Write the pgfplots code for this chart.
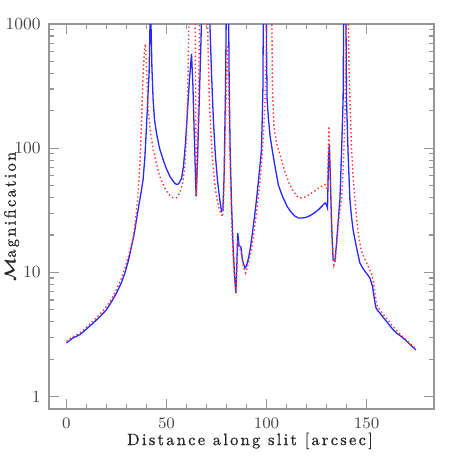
\documentclass[border=0pt]{standalone}
\usepackage{amsmath}
\usepackage{fontspec}
\usepackage{pgfplots}
\pgfplotsset{compat=1.18}
\newfontfamily\lbl{lmroman10-regular.otf}[LetterSpace=14,FakeBold=0.8]
\definecolor{txtgray}{RGB}{70,70,70}
\definecolor{axgray}{RGB}{150,150,150}
\definecolor{myblue}{RGB}{40,40,255}
\definecolor{myred}{RGB}{255,50,50}
\begin{document}
\begin{tikzpicture}
\useasboundingbox (-24.5pt,-24.5pt) rectangle (204.5pt,204.5pt);
\begin{axis}[
  at={(0,0)}, anchor=south west,
  scale only axis, width=192.5pt, height=192.5pt,
  xmin=-8.75, xmax=183.75,
  ymode=log, ymin=0.794, ymax=1000,
  xtick={0,50,100,150}, minor x tick num=4,
  ytick={1,10,100,1000}, yticklabels={1,10,100,1000},
  minor ytick={2,3,4,5,6,7,8,9,20,30,40,50,60,70,80,90,200,300,400,500,600,700,800,900},
  tick align=inside,
  major tick length=5pt, minor tick length=2.5pt,
  axis line style={axgray, line width=0.6pt},
  every tick/.style={axgray, line width=0.6pt},
  tick label style={txtgray, font=\fontsize{8.5}{10}\selectfont},
  xticklabel style={yshift=-1pt},
  yticklabel style={xshift=-0.7pt},
  xlabel={\lbl Distance along slit [arcsec]},
  ylabel={$\boldsymbol{\mathcal{M}}$\lbl agnification},
  every axis x label/.style={at={(axis description cs:0.522,-0.083)}, anchor=center, font=\fontsize{8.2}{10}\selectfont, text=black!85},
  every axis y label/.style={at={(axis description cs:-0.097,0.5)}, rotate=90, anchor=center, font=\fontsize{8.2}{10}\selectfont, text=black!85},
  clip=true,
]
\addplot[myblue, line width=0.65pt] coordinates {
(0,2.7) (3,2.95) (6.7,3.15) (10,3.5) (13.3,3.9) (16.7,4.4) (20,5.0) (22.5,5.8) (25,6.8) (27.5,8.3) (29.2,9.9)
(31,12.5) (32.5,16.2) (34,21) (35,26.6) (36.2,35) (37.5,46) (38.3,56) (39.2,85) (40,150) (40.7,260) (41.3,405) (41.7,900) (42,4000)
(42.3,900) (42.7,450) (43.3,247) (44,170) (45,132) (46.5,100) (48.3,81) (50,68) (52,58) (54,52.5) (55,51) (56,51.5) (57.5,57)
(58.5,72) (59.5,110) (60.5,200) (61.5,360) (62.5,575) (63.2,320) (64,110) (64.8,41) (65.5,80) (66.5,280) (67.3,800) (68,4000)
(71,4000) (71.7,1000) (72.5,400) (73.5,160) (74.5,85) (75.5,55) (76.5,40) (77.5,31) (78.2,32) (78.8,60) (79.5,300) (80.2,4000)
(80.8,4000) (81.3,400) (81.8,100) (82.5,36) (83.3,16) (84,9.5) (84.7,6.8) (85.2,12) (85.6,20.8) (86.3,16.4) (87.2,16)
(88,12.5) (89.2,10.8) (90,11.3) (91,13) (92,16) (93,21) (94,28) (95,38.6) (96,55) (97,80) (97.5,98) (98.2,300) (98.6,4000)
(99.6,4000) (100,700) (100.3,247) (101,170) (101.8,125) (102.8,98) (104,75) (106,50) (108,41) (110.3,34) (112,31)
(114,28.5) (116,27.4) (118,27.4) (120,27.8) (122,28.8) (124,30.2) (126,32) (128,34.5) (129.3,36.3) (130,35) (130.5,33)
(131,80) (131.4,108) (131.9,60) (132.5,25) (133.3,12.6) (134.2,12.3) (135,17) (136,28) (136.7,38.6) (137.5,90) (138.3,247)
(138.8,4000) (139.5,4000) (140,247) (140.8,90) (141.7,38.6) (142.5,28) (143.3,22) (144.2,18.4) (145.5,14.5) (146.7,11.9)
(148,10.9) (149.2,10.2) (150.5,9.6) (151.7,9.0) (153,7.7) (154,6.0) (154.7,5.2) (155.5,4.95) (156.7,4.7) (158.3,4.35)
(160,4.03) (161.7,3.72) (163.3,3.45) (165,3.25) (166.7,3.1) (168.3,2.96) (170,2.8) (172,2.6) (174.7,2.38)
};
\addplot[myred, line width=0.7pt, dash pattern=on 0.7pt off 1.3pt] coordinates {
(0,2.78) (3,3.02) (6.7,3.25) (10,3.62) (13.3,4.05) (16.7,4.6) (20,5.3) (22.5,6.1) (25,7.3) (27.5,9.0) (29.2,10.8)
(31,13.5) (32.5,17) (33.3,18.8) (34.5,26) (35.5,38) (36.2,56) (36.8,80) (37.5,160) (38.3,400) (39,620) (39.5,690)
(40.1,400) (40.8,205) (42,135) (43.3,98) (45,75) (46.5,60) (48.3,51) (50,45) (52,41) (53.3,39.8) (55,40) (56.7,43.7)
(58,52) (59.2,72) (60,120) (60.8,405) (61.4,2000) (64.2,2000) (64.6,200) (65,42) (65.5,80) (66.2,400) (66.7,2000)
(70.3,2000) (70.8,600) (71.5,220) (72.5,110) (73.5,65) (74.5,46) (75.5,37) (76.5,32) (77.5,29) (78,28) (78.5,35)
(79.2,100) (80,350) (80.6,680) (81,400) (81.5,120) (82.2,40) (83,17) (84,9) (84.7,6.8) (85.3,12) (85.7,18) (86.5,16)
(87.5,14) (88.5,11) (89.5,9.9) (90.5,11) (91.5,13) (92.5,15.5) (93.5,20) (94.5,26) (95.5,36) (96.5,50) (97.5,75)
(98.5,130) (99.5,300) (100.3,1500) (102.6,1500) (103,300) (103.7,150) (105,110) (107,86) (109,66) (111.2,52.6)
(113,46) (115,41.5) (116.2,39.8) (118,39.8) (120,41) (122,43) (124,45) (126.2,47.9) (128,50) (129.2,51) (130,48)
(130.5,46) (130.9,100) (131.2,150) (131.5,100) (132.2,40) (133,16) (133.7,11.5) (134.5,13) (135.5,20) (136.5,30)
(137.5,38.6) (138.5,80) (139.3,200) (140,1500) (140.8,1500) (141.3,400) (141.7,247) (142.5,100) (143.3,60) (144.2,38.6)
(145,28) (145.8,21) (147,16) (148,14) (149.2,12.7) (150.5,11.5) (151.5,10.5) (152.5,9.9) (153.5,8.2) (154.2,6.8)
(155.3,5.4) (157,4.9) (159,4.45) (161,4.1) (163,3.7) (165,3.42) (167,3.15) (169.5,2.9) (172,2.65) (175,2.4)
};
\end{axis}
\end{tikzpicture}
\end{document}
